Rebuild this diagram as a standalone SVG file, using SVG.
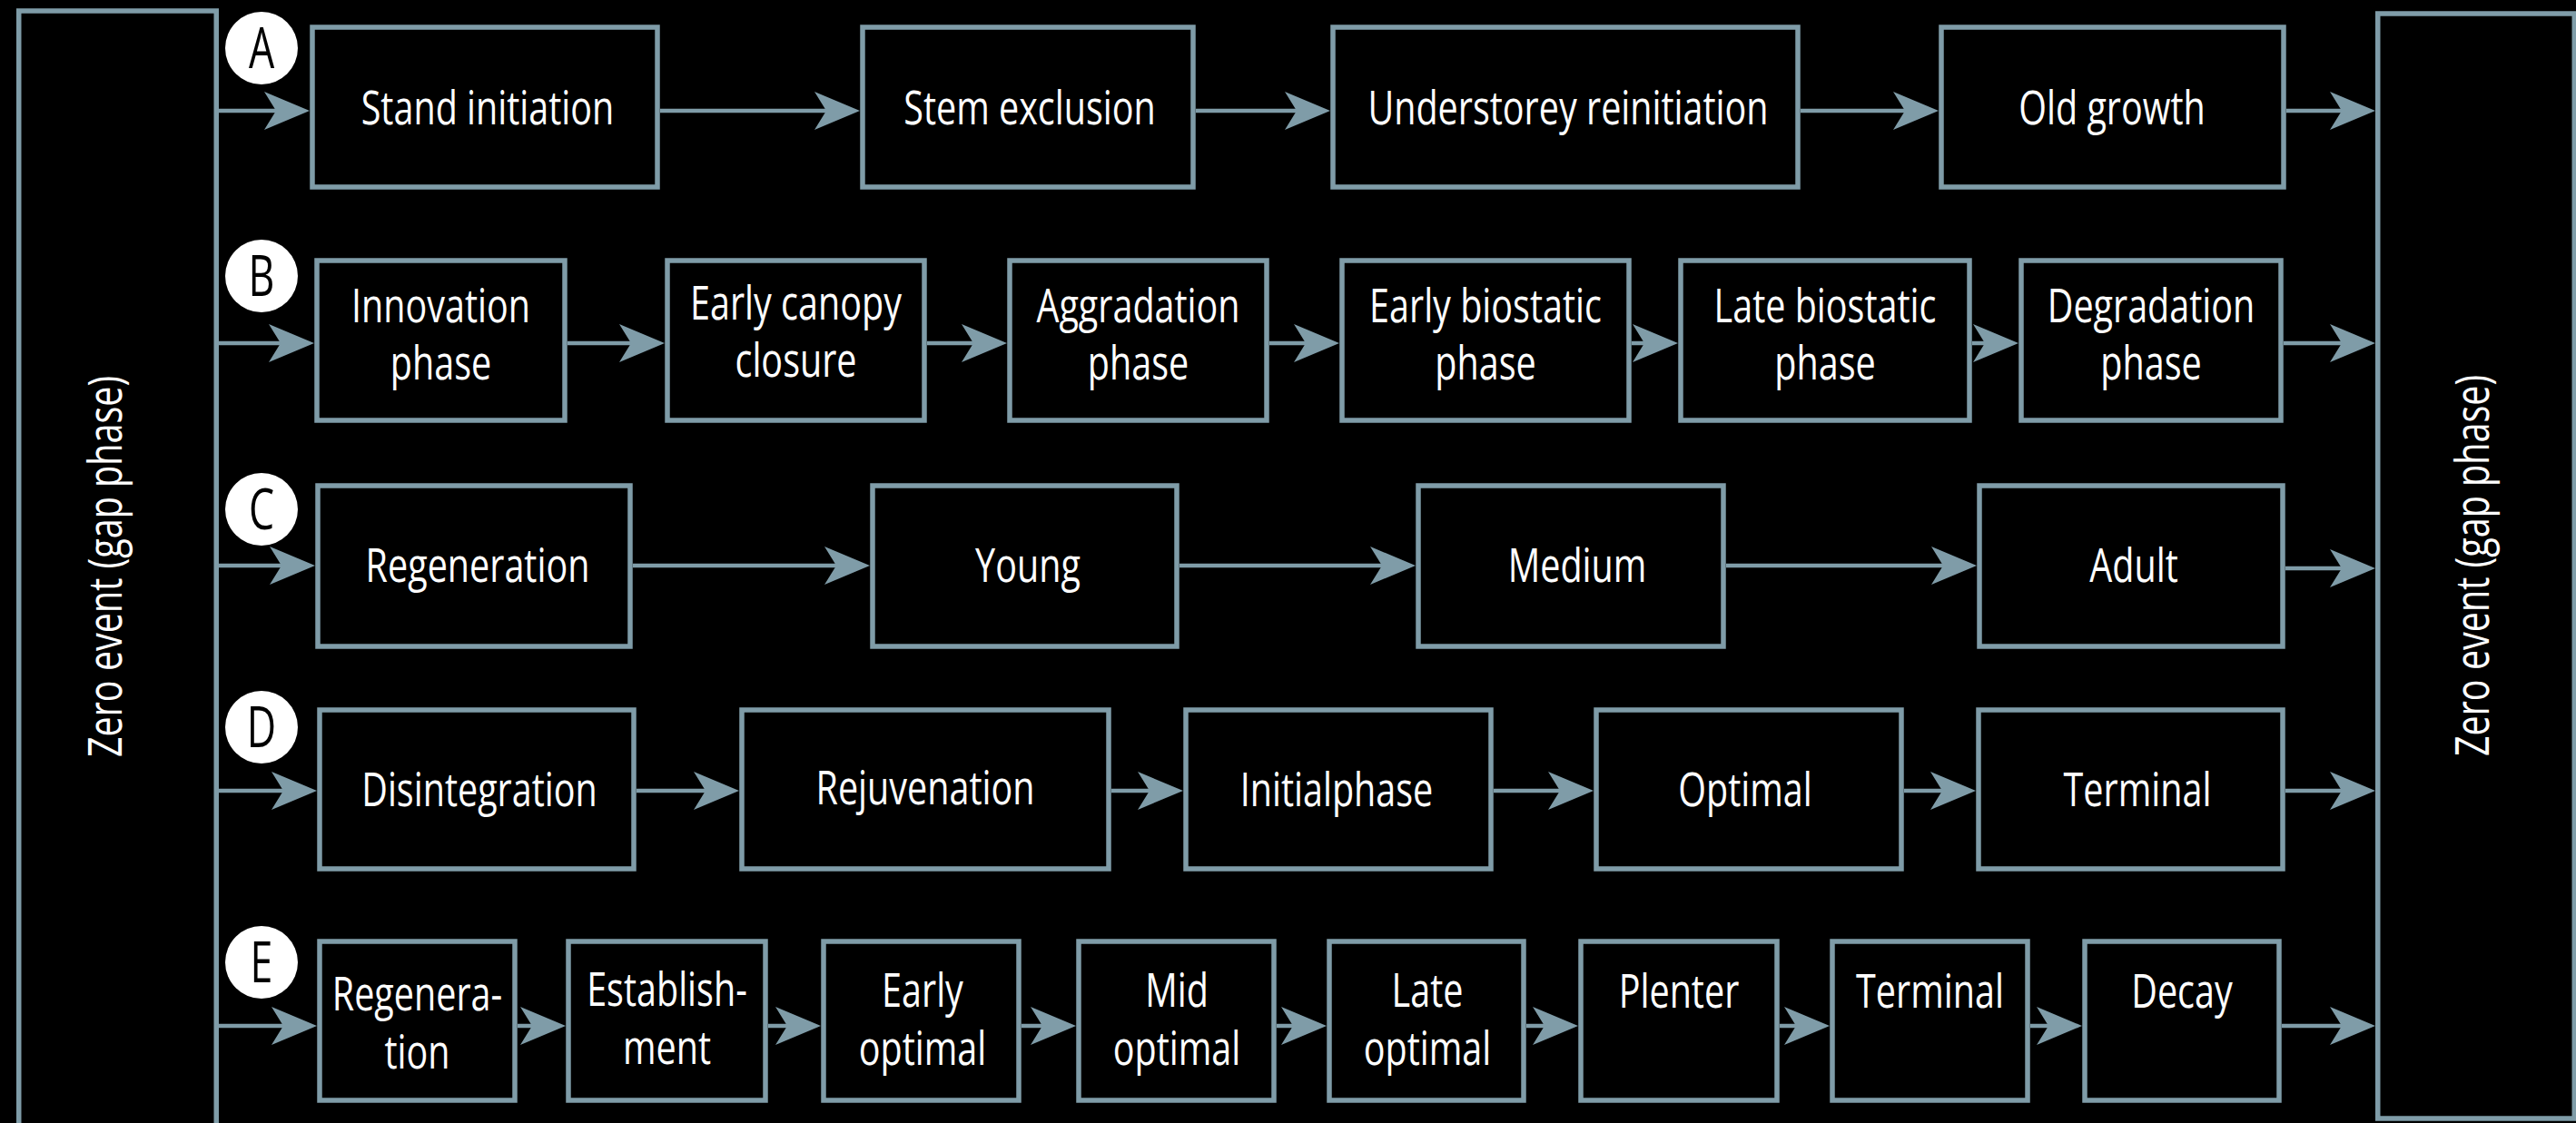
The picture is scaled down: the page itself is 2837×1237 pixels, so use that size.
<svg xmlns="http://www.w3.org/2000/svg" width="2837" height="1237" viewBox="0 0 2837 1237">
<defs>
<style>
.box{fill:#000;stroke:#7f9ca8;stroke-width:5.5}
.conn line{stroke:#7f9ca8;stroke-width:4.5;marker-end:url(#ah)}
.lbl{font-family:"Open Sans","Liberation Sans",sans-serif;font-size:52px;fill:#fff;text-anchor:middle}
.tagc{fill:#fff}
.tagt{font-family:"Open Sans","Liberation Sans",sans-serif;font-size:62px;font-weight:500;fill:#000;text-anchor:middle}
</style>
<marker id="ah" markerUnits="userSpaceOnUse" markerWidth="50" markerHeight="42" viewBox="0 0 50 42" refX="30" refY="21" orient="auto">
<path d="M0,0 L50,21 L0,42 L13,21 Z" fill="#7f9ca8"/>
</marker>
</defs>
<rect width="2837" height="1237" fill="#000"/>

<g id="zero-left">
<rect class="box" x="20.75" y="12" width="217.5" height="1240"/>
<text class="lbl" transform="translate(115,624) rotate(-90) scale(0.76,1)" x="0" y="18.5">Zero event (gap phase)</text>
</g>
<g id="zero-right">
<rect class="box" x="2618.75" y="15" width="216.5" height="1217"/>
<text class="lbl" transform="translate(2722,623) rotate(-90) scale(0.76,1)" x="0" y="18.5">Zero event (gap phase)</text>
</g>

<g id="connectors" class="conn">
<line x1="241" y1="122" x2="321" y2="122"/>
<line x1="727" y1="122" x2="927" y2="122"/>
<line x1="1317" y1="122" x2="1445" y2="122"/>
<line x1="1983" y1="122" x2="2115" y2="122"/>
<line x1="2518" y1="122" x2="2596" y2="122"/>

<line x1="241" y1="378" x2="326" y2="378"/>
<line x1="625" y1="378" x2="712" y2="378"/>
<line x1="1021" y1="378" x2="1089" y2="378"/>
<line x1="1398" y1="378" x2="1455" y2="378"/>
<line x1="1797" y1="378" x2="1828" y2="378"/>
<line x1="2172" y1="378" x2="2203" y2="378"/>
<line x1="2515" y1="378" x2="2596" y2="378"/>

<line x1="241" y1="623" x2="327" y2="623"/>
<line x1="697" y1="623" x2="938" y2="623"/>
<line x1="1299" y1="623" x2="1539" y2="623"/>
<line x1="1901" y1="623" x2="2157" y2="623"/>
<line x1="2517" y1="626" x2="2596" y2="626"/>

<line x1="241" y1="871" x2="329" y2="871"/>
<line x1="701" y1="871" x2="794" y2="871"/>
<line x1="1224" y1="871" x2="1283" y2="871"/>
<line x1="1645" y1="871" x2="1735" y2="871"/>
<line x1="2097" y1="871" x2="2156" y2="871"/>
<line x1="2517" y1="871" x2="2596" y2="871"/>

<line x1="241" y1="1130" x2="329" y2="1130"/>
<line x1="570" y1="1130" x2="603" y2="1130"/>
<line x1="846" y1="1130" x2="884" y2="1130"/>
<line x1="1125" y1="1130" x2="1165" y2="1130"/>
<line x1="1406" y1="1130" x2="1441" y2="1130"/>
<line x1="1681" y1="1130" x2="1718" y2="1130"/>
<line x1="1960" y1="1130" x2="1995" y2="1130"/>
<line x1="2236" y1="1130" x2="2273" y2="1130"/>
<line x1="2513" y1="1130" x2="2596" y2="1130"/>
</g>

<g id="tag-A"><circle class="tagc" cx="288" cy="53" r="40"/><text class="tagt" transform="translate(288,75) scale(0.72,1)">A</text></g>
<g id="tag-B"><circle class="tagc" cx="288" cy="304" r="40"/><text class="tagt" transform="translate(288,326) scale(0.72,1)">B</text></g>
<g id="tag-C"><circle class="tagc" cx="288" cy="561" r="40"/><text class="tagt" transform="translate(288,583) scale(0.72,1)">C</text></g>
<g id="tag-D"><circle class="tagc" cx="288" cy="801" r="40"/><text class="tagt" transform="translate(288,823) scale(0.72,1)">D</text></g>
<g id="tag-E"><circle class="tagc" cx="288" cy="1060" r="40"/><text class="tagt" transform="translate(288,1082) scale(0.72,1)">E</text></g>

<g id="A1"><rect class="box" x="344" y="30" width="380" height="176"/><text class="lbl" transform="translate(537,137) scale(0.76,1)">Stand initiation</text></g>
<g id="A2"><rect class="box" x="950" y="30" width="364" height="176"/><text class="lbl" transform="translate(1134,137) scale(0.76,1)">Stem exclusion</text></g>
<g id="A3"><rect class="box" x="1468" y="30" width="512" height="176"/><text class="lbl" transform="translate(1727,137) scale(0.76,1)">Understorey reinitiation</text></g>
<g id="A4"><rect class="box" x="2138" y="30" width="377" height="176"/><text class="lbl" transform="translate(2326,137) scale(0.76,1)">Old growth</text></g>

<g id="B1"><rect class="box" x="349" y="287" width="273" height="176"/><text class="lbl" transform="translate(485.5,355) scale(0.76,1)"><tspan x="0" y="0">Innovation</tspan><tspan x="0" y="63">phase</tspan></text></g>
<g id="B2"><rect class="box" x="735" y="287" width="283" height="176"/><text class="lbl" transform="translate(876.5,352) scale(0.76,1)"><tspan x="0" y="0">Early canopy</tspan><tspan x="0" y="63">closure</tspan></text></g>
<g id="B3"><rect class="box" x="1112" y="287" width="283" height="176"/><text class="lbl" transform="translate(1253.5,355) scale(0.76,1)"><tspan x="0" y="0">Aggradation</tspan><tspan x="0" y="63">phase</tspan></text></g>
<g id="B4"><rect class="box" x="1478" y="287" width="316" height="176"/><text class="lbl" transform="translate(1636,355) scale(0.76,1)"><tspan x="0" y="0">Early biostatic</tspan><tspan x="0" y="63">phase</tspan></text></g>
<g id="B5"><rect class="box" x="1851" y="287" width="318" height="176"/><text class="lbl" transform="translate(2010,355) scale(0.76,1)"><tspan x="0" y="0">Late biostatic</tspan><tspan x="0" y="63">phase</tspan></text></g>
<g id="B6"><rect class="box" x="2226" y="287" width="286" height="176"/><text class="lbl" transform="translate(2369,355) scale(0.76,1)"><tspan x="0" y="0">Degradation</tspan><tspan x="0" y="63">phase</tspan></text></g>

<g id="C1"><rect class="box" x="350" y="535" width="344" height="177"/><text class="lbl" transform="translate(526,641) scale(0.76,1)">Regeneration</text></g>
<g id="C2"><rect class="box" x="961" y="535" width="335" height="177"/><text class="lbl" transform="translate(1132,641) scale(0.76,1)">Young</text></g>
<g id="C3"><rect class="box" x="1562" y="535" width="336" height="177"/><text class="lbl" transform="translate(1737,641) scale(0.76,1)">Medium</text></g>
<g id="C4"><rect class="box" x="2180" y="535" width="334" height="177"/><text class="lbl" transform="translate(2350,641) scale(0.76,1)">Adult</text></g>

<g id="D1"><rect class="box" x="352" y="782" width="346" height="175"/><text class="lbl" transform="translate(528,888) scale(0.76,1)">Disintegration</text></g>
<g id="D2"><rect class="box" x="817" y="782" width="404" height="175"/><text class="lbl" transform="translate(1019,886) scale(0.76,1)">Rejuvenation</text></g>
<g id="D3"><rect class="box" x="1306" y="782" width="336" height="175"/><text class="lbl" transform="translate(1472,888) scale(0.76,1)">Initialphase</text></g>
<g id="D4"><rect class="box" x="1758" y="782" width="336" height="175"/><text class="lbl" transform="translate(1922,888) scale(0.76,1)">Optimal</text></g>
<g id="D5"><rect class="box" x="2179" y="782" width="335" height="175"/><text class="lbl" transform="translate(2354,888) scale(0.76,1)">Terminal</text></g>

<g id="E1"><rect class="box" x="352" y="1037" width="215" height="175"/><text class="lbl" transform="translate(459.5,1113) scale(0.76,1)"><tspan x="0" y="0">Regenera-</tspan><tspan x="0" y="64">tion</tspan></text></g>
<g id="E2"><rect class="box" x="626" y="1037" width="217" height="175"/><text class="lbl" transform="translate(734.5,1108) scale(0.76,1)"><tspan x="0" y="0">Establish-</tspan><tspan x="0" y="64">ment</tspan></text></g>
<g id="E3"><rect class="box" x="907" y="1037" width="215" height="175"/><text class="lbl" transform="translate(1016,1109) scale(0.76,1)"><tspan x="0" y="0">Early</tspan><tspan x="0" y="64">optimal</tspan></text></g>
<g id="E4"><rect class="box" x="1188" y="1037" width="215" height="175"/><text class="lbl" transform="translate(1296,1109) scale(0.76,1)"><tspan x="0" y="0">Mid</tspan><tspan x="0" y="64">optimal</tspan></text></g>
<g id="E5"><rect class="box" x="1464" y="1037" width="214" height="175"/><text class="lbl" transform="translate(1572,1109) scale(0.76,1)"><tspan x="0" y="0">Late</tspan><tspan x="0" y="64">optimal</tspan></text></g>
<g id="E6"><rect class="box" x="1741" y="1037" width="216" height="175"/><text class="lbl" transform="translate(1849,1110) scale(0.76,1)">Plenter</text></g>
<g id="E7"><rect class="box" x="2018" y="1037" width="215" height="175"/><text class="lbl" transform="translate(2125.5,1110) scale(0.76,1)">Terminal</text></g>
<g id="E8"><rect class="box" x="2296" y="1037" width="214" height="175"/><text class="lbl" transform="translate(2403,1110) scale(0.76,1)">Decay</text></g>
</svg>
